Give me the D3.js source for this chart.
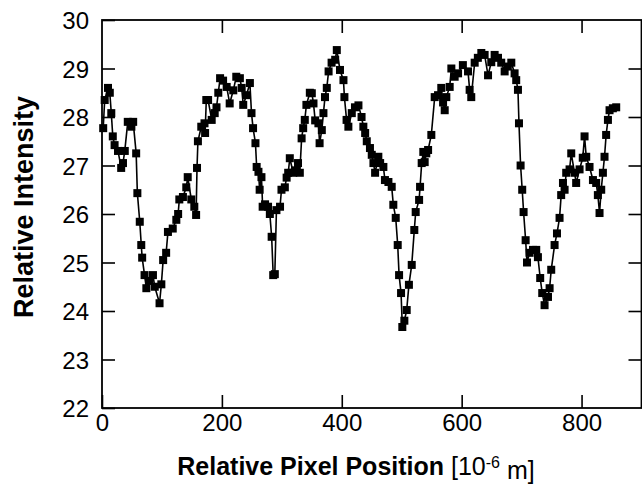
<!DOCTYPE html>
<html>
<head>
<meta charset="utf-8">
<script src="https://cdn.jsdelivr.net/npm/d3@7"></script>
<style>
  body { margin: 0; background: #fff; }
  svg { display: block; font-family: "Liberation Sans", Arial, Helvetica, sans-serif; }
</style>
</head>
<body>
<svg id="chart" width="642" height="488"></svg>
<script>
// pixel position vs. relative intensity
const positions = [
  2, 4.5, 10, 13, 15.5, 18, 21, 26.7, 32, 35, 38, 43, 49, 52, 57, 59, 63, 65.5, 67, 71,
  74, 79, 85, 88, 96, 99, 102, 107, 110, 118, 124, 127, 129, 135, 140.6, 143, 149, 154, 157, 158.5,
  160, 165.6, 171, 172, 174, 177, 183, 188, 191, 194, 197, 202, 208, 213, 219, 224, 230, 233, 235.6, 241,
  246.7, 249.4, 252, 256, 258, 261, 263, 266, 268, 272, 277, 280, 283, 285.6, 288.3, 291, 297, 299.4, 305, 308,
  310.6, 313.3, 319, 322, 327, 330, 333, 335.6, 338.3, 341, 346.7, 350, 352.8, 355.6, 361, 363, 366.7, 369.4, 372, 375,
  378, 383, 389, 391.7, 397, 402.8, 404.4, 408, 411, 416.7, 422, 427.8, 433, 436, 439, 441.7, 447, 450, 452.8, 455.6,
  461, 464, 469.4, 472, 477.8, 483.3, 486, 490, 493.3, 495.6, 498.9, 501, 504.4, 508.3, 512, 516.7, 521, 523.3, 529, 530.6,
  533.3, 536, 538.3, 541, 544, 549.4, 555, 560.6, 566, 569, 571.7, 574.4, 580, 582.8, 588.3, 594, 602, 610.6, 613.3, 616,
  621.7, 627, 632.8, 638.3, 644, 649.4, 655, 660.6, 666, 671.7, 677, 682.8, 688.3, 691, 693.9, 695.6, 698.3, 701, 703.3, 706.7,
  709, 713.3, 719, 724.4, 727.2, 731, 734.4, 738.3, 744, 746.7, 749.4, 755, 759, 763.3, 766, 769, 771.7, 774.4, 780, 782.8,
  788.3, 791, 796.7, 802, 805, 807.8, 813.3, 819, 824.4, 827.2, 830, 832.8, 835.6, 838.3, 841, 844, 846.7, 852.2, 857.8
];
const intensity = [
  27.77, 28.35, 28.6, 28.5, 28.08, 27.6, 27.42, 27.3, 26.95, 27.05, 27.3, 27.9, 27.8, 27.9, 27.25, 26.43, 25.84, 25.36, 25.1, 24.74,
  24.47, 24.62, 24.74, 24.5, 24.16, 24.55, 25.05, 25.2, 25.63, 25.7, 25.88, 26.0, 26.3, 26.35, 26.55, 26.76, 26.3, 26.15, 25.98, 26.95,
  27.5, 27.8, 27.87, 27.67, 28.35, 28.35, 27.94, 28.08, 28.2, 28.5, 28.8, 28.75, 28.62, 28.28, 28.55, 28.83, 28.8, 28.6, 28.25, 28.45,
  28.7, 28.08, 27.77, 27.46, 26.97, 26.87, 26.5, 26.76, 26.15, 26.2, 26.15, 26.0, 25.53, 24.74, 24.76, 26.08, 26.15, 26.5, 26.55, 26.75,
  26.85, 27.15, 26.85, 26.9, 27.05, 26.85, 27.56, 27.77, 27.94, 28.25, 28.5, 28.49, 28.28, 27.93, 27.87, 27.46, 27.73, 28.08, 28.41, 28.6,
  28.94, 29.12, 29.18, 29.38, 28.97, 28.76, 28.41, 27.94, 27.8, 28.08, 28.2, 28.24, 28.0, 27.8, 27.67, 27.5, 27.36, 27.22, 27.05, 26.85,
  27.18, 27.05, 26.97, 26.7, 26.66, 26.56, 26.19, 25.92, 25.36, 24.74, 24.37, 23.67, 23.8, 24.02, 24.54, 24.95, 25.67, 26.04, 26.29, 26.56,
  27.05, 27.28, 27.07, 27.25, 27.32, 27.63, 28.41, 28.45, 28.6, 28.3, 28.14, 28.41, 28.62, 29.0, 28.83, 28.9, 29.07, 28.94, 28.56, 28.41,
  29.12, 29.22, 29.32, 29.28, 28.86, 29.13, 29.28, 29.22, 29.12, 28.94, 29.04, 29.12, 28.9, 28.76, 28.56, 27.87, 27.0, 26.5, 26.04, 25.46,
  25.0, 25.2, 25.26, 25.26, 25.11, 24.68, 24.37, 24.12, 24.29, 24.47, 24.85, 25.36, 25.6, 25.92, 26.39, 26.64, 26.5, 26.85, 26.92, 27.25,
  26.85, 26.64, 26.92, 27.16, 27.6, 27.18, 26.97, 26.7, 26.64, 26.39, 26.02, 26.5, 26.85, 27.18, 27.63, 27.94, 28.14, 28.18, 28.2
];
const xTicks = [0, 200, 400, 600, 800];
const yTicks = [22, 23, 24, 25, 26, 27, 28, 29, 30];

const svg = d3.select("#chart");
const plotLeft = 102, plotTop = 20, plotRight = 641.5, plotBottom = 408;

const x = d3.scaleLinear().domain([0, 900]).range([plotLeft, plotRight]);
const y = d3.scaleLinear().domain([22, 30]).range([plotBottom, plotTop]);

const points = positions.map((p, i) => ({x: p, y: intensity[i]}));

// frame
svg.append("rect")
    .attr("x", plotLeft).attr("y", plotTop)
    .attr("width", plotRight - plotLeft).attr("height", plotBottom - plotTop)
    .attr("fill", "none").attr("stroke", "#000").attr("stroke-width", 1.8);

// axes, ticks pointing inward
const tickLen = 13;
const axisStyle = g => {
    g.select(".domain").remove();
    g.selectAll(".tick line").attr("stroke", "#000").attr("stroke-width", 1.6);
    g.selectAll(".tick text").attr("fill", "#000").style("font-size", "24px");
};

svg.append("g")
    .attr("transform", `translate(${plotLeft},0)`)
    .call(d3.axisLeft(y).tickValues(yTicks).tickFormat(d3.format("d"))
        .tickSizeInner(-tickLen).tickSizeOuter(0).tickPadding(13))
    .call(axisStyle)
    .call(g => g.selectAll(".tick text").attr("dy", "0.36em"));

svg.append("g")
    .attr("transform", `translate(${plotRight},0)`)
    .call(d3.axisRight(y).tickValues(yTicks.slice(1, -1)).tickFormat("")
        .tickSizeInner(-tickLen).tickSizeOuter(0))
    .call(axisStyle);

svg.append("g")
    .attr("transform", `translate(0,${plotBottom})`)
    .call(d3.axisBottom(x).tickValues(xTicks).tickFormat(d3.format("d"))
        .tickSizeInner(-tickLen).tickSizeOuter(0).tickPadding(3))
    .call(axisStyle)
    .call(g => g.selectAll(".tick text").attr("dy", "0.85em"));

svg.append("g")
    .attr("transform", `translate(0,${plotTop})`)
    .call(d3.axisTop(x).tickValues(xTicks.slice(1)).tickFormat("")
        .tickSizeInner(-tickLen).tickSizeOuter(0))
    .call(axisStyle);

// line and square markers
const line = d3.line().x(d => x(d.x)).y(d => y(d.y));
svg.append("path")
    .datum(points)
    .attr("d", line)
    .attr("fill", "none")
    .attr("stroke", "#000")
    .attr("stroke-width", 1.6);

const ms = 8;
svg.append("g").selectAll("rect")
    .data(points)
    .join("rect")
    .attr("x", d => x(d.x) - ms / 2)
    .attr("y", d => y(d.y) - ms / 2)
    .attr("width", ms).attr("height", ms)
    .attr("fill", "#000");

// axis titles
const xt = svg.append("text")
    .attr("x", 356).attr("y", 475)
    .attr("text-anchor", "middle")
    .style("font-size", "25px");
xt.append("tspan").attr("font-weight", "bold").text("Relative Pixel Position ");
xt.append("tspan").text("[10");
xt.append("tspan").attr("dy", "-0.45em").style("font-size", "16px").text("-6");
xt.append("tspan").attr("dy", "0.45em").text(" m]");

svg.append("text")
    .attr("transform", "translate(33,207) rotate(-90)")
    .attr("text-anchor", "middle")
    .attr("font-weight", "bold")
    .style("font-size", "27px")
    .text("Relative Intensity");
</script>
</body>
</html>
